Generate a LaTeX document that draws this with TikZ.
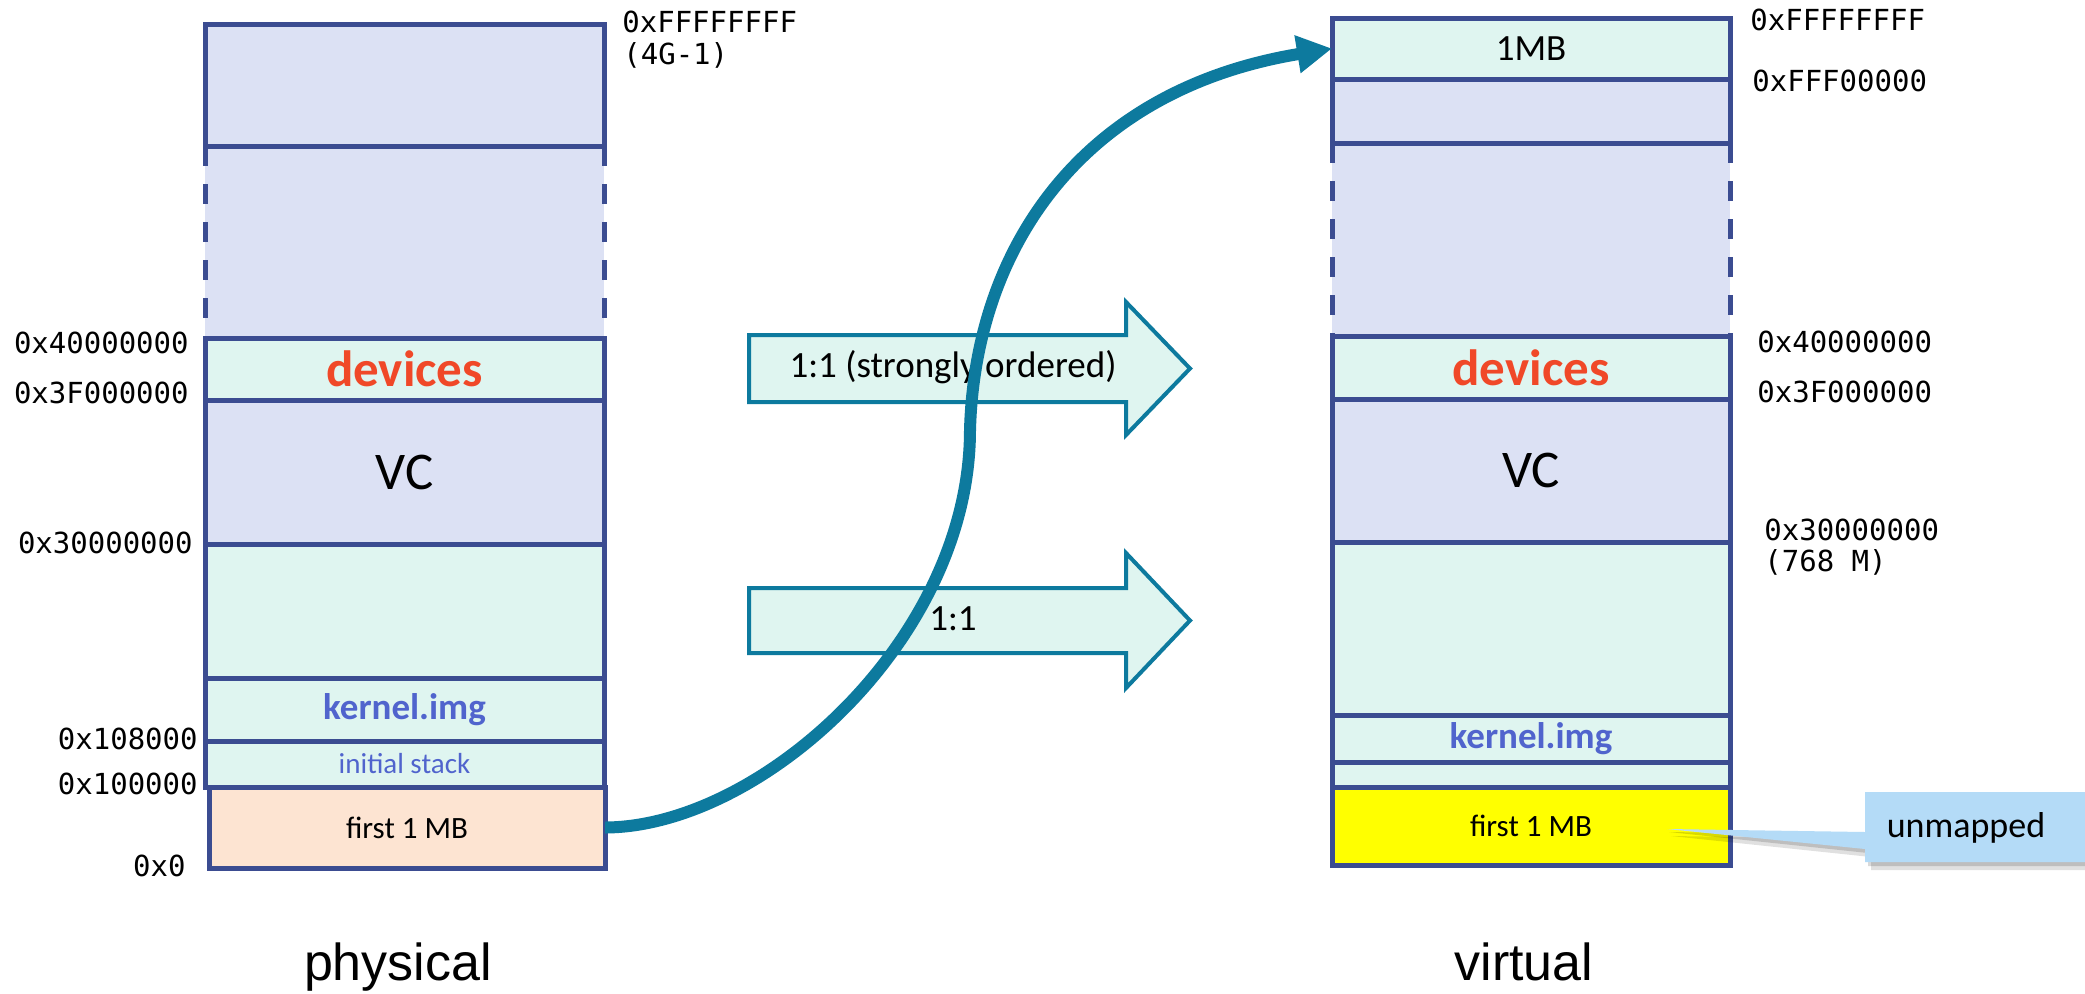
\documentclass[tikz,border=0pt]{standalone}
\usepackage{fontspec}
\setmainfont{Carlito}
\newfontfamily\calib{Carlito}
\newfontfamily\monof{DejaVu Sans Mono}
\newfontfamily\arialf{Liberation Sans}
\usetikzlibrary{arrows.meta}
\definecolor{navy}{RGB}{59,76,145}
\definecolor{lav}{RGB}{220,225,244}
\definecolor{mint}{RGB}{223,245,240}
\definecolor{peach}{RGB}{253,228,210}
\definecolor{yel}{RGB}{255,255,0}
\definecolor{tealc}{RGB}{13,122,158}
\definecolor{devred}{RGB}{240,72,40}
\definecolor{kblue}{RGB}{80,100,205}
\definecolor{callblue}{RGB}{180,219,247}
\tikzset{
  cell/.style={draw=navy, line width=2.5pt, minimum width=199.5pt, inner sep=0pt, outer sep=0pt, font=\calib},
  rcell/.style={cell, minimum width=199pt},
  dashfill/.style={fill=lav, draw=none, inner sep=0pt, outer sep=0pt},
  dashside/.style={draw=navy, line width=2.5pt, dash pattern=on 10pt off 9pt},
  addr/.style={font=\monof\fontsize{14.5}{16}\selectfont, inner sep=0pt},
  devtxt/.style={font=\calib\bfseries\fontsize{25.5}{28}\selectfont, text=devred},
  vctxt/.style={font=\calib\fontsize{26.5}{30}\selectfont},
  kerntxt/.style={font=\calib\bfseries\fontsize{18.5}{21}\selectfont, text=kblue},
  stacktxt/.style={font=\calib\fontsize{14.5}{17}\selectfont, text=kblue},
  mbtxt/.style={font=\calib\fontsize{15.5}{18}\selectfont},
  blockarrow/.style={draw=tealc, fill=mint, line width=2pt, line join=miter},
  arrtxt/.style={font=\calib\fontsize{18.5}{21}\selectfont, inner sep=0pt},
  title/.style={font=\arialf\fontsize{26}{30}\selectfont, inner sep=0pt, anchor=base},
}
\begin{document}
\begin{tikzpicture}[x=0.5pt, y=-0.5pt]
\useasboundingbox (0,0) rectangle (2085,993);
\fill[white] (0,0) rectangle (2085,993);

% ---------- physical column ----------
\node[dashfill, minimum width=199.5pt, minimum height=96pt] (pdash) at (404.5,242) {};
\draw[dashside] (pdash.north west) -- (pdash.south west);
\draw[dashside] (pdash.north east) -- (pdash.south east);
\node[cell, fill=lav, minimum height=61pt] (ptop) at (404.5,85) {};
\node[cell, fill=mint, minimum height=31pt] (pdev) at (404.5,369) {};
\node[devtxt] (pdevt) at (pdev.center) {devices};
\node[cell, fill=lav, minimum height=72pt, vctxt] (pvc) at (404.5,472) {VC};
\node[cell, fill=mint, minimum height=67pt] (pfree) at (404.5,611) {};
\node[cell, fill=mint, minimum height=31.5pt, kerntxt] (pkern) at (404.5,709.5) {kernel.img};
\node[cell, fill=mint, minimum height=23pt, stacktxt] (pstack) at (404.5,764) {initial stack};
\node[cell, fill=peach, minimum width=198pt, minimum height=40.5pt, mbtxt] (p1mb) at (407,827.5) {first 1 MB};

% physical labels
\node[addr, anchor=west] (plFF) at (622,22) {0xFFFFFFFF};
\node[addr, anchor=west] (pl4G) at (623,55) {(4G-1)};
\node[addr, anchor=east] (pl40) at (189,343) {0x40000000};
\node[addr, anchor=east] (pl3F) at (189,393) {0x3F000000};
\node[addr, anchor=east] (pl30) at (193,543) {0x30000000};
\node[addr, anchor=east] (pl108) at (198,739) {0x108000};
\node[addr, anchor=east] (pl100) at (198,784) {0x100000};
\node[addr, anchor=east] (pl0) at (186,866) {0x0};
\node[title] (phys) at (398,980) {physical};

% ---------- virtual column ----------
\node[dashfill, minimum width=199pt, minimum height=96.5pt] (vdash) at (1531,239.5) {};
\draw[dashside] (vdash.north west) -- (vdash.south west);
\draw[dashside] (vdash.north east) -- (vdash.south east);
\node[rcell, fill=mint, minimum height=30.5pt, font=\calib\fontsize{18.5}{21}\selectfont] (v1mb) at (1531,48.5) {1MB};
\node[rcell, fill=lav, minimum height=32pt] (vlav) at (1531,111) {};
\node[rcell, fill=mint, minimum height=31.5pt] (vdev) at (1531,367.5) {};
\node[devtxt] (vdevt) at (vdev.center) {devices};
\node[rcell, fill=lav, minimum height=71.5pt, vctxt] (vvc) at (1531,470.5) {VC};
\node[rcell, fill=mint, minimum height=86.5pt] (vfree) at (1531,628.5) {};
\node[rcell, fill=mint, minimum height=23.5pt, kerntxt] (vkern) at (1531,738.5) {kernel.img};
\node[rcell, fill=mint, minimum height=12.5pt] (vsmall) at (1531,774.5) {};
\node[rcell, fill=yel, minimum height=39pt, mbtxt] (vfirst) at (1531,826) {first 1 MB};

% virtual labels
\node[addr, anchor=west] (vlFF) at (1750,20) {0xFFFFFFFF};
\node[addr, anchor=west] (vlFFF) at (1752,81) {0xFFF00000};
\node[addr, anchor=west] (vl40) at (1757,342) {0x40000000};
\node[addr, anchor=west] (vl3F) at (1757,392) {0x3F000000};
\node[addr, anchor=west] (vl30) at (1764,530) {0x30000000};
\node[addr, anchor=west] (vl768) at (1764,562) {(768 M)};
\node[title] (virt) at (1524,980) {virtual};

% ---------- block arrows ----------
\draw[blockarrow] (749,335) -- (1126,335) -- (1126,302) -- (1190,368.5) -- (1126,435) -- (1126,402) -- (749,402) -- cycle;
\node[arrtxt] (a1) at (953,367) {1:1 (strongly ordered)};
\draw[blockarrow] (749,588) -- (1126,588) -- (1126,553) -- (1190,620.5) -- (1126,688) -- (1126,653) -- (749,653) -- cycle;
\node[arrtxt] (a2) at (953,619) {1:1};

% ---------- curved arrow ----------
\draw[tealc, line width=6pt, -{Triangle[length=17.5pt,width=18pt]}]
  (p1mb.east) .. controls (760,827) and (970,640) .. (970,430)
  .. controls (975,250) and (1080,90) .. (v1mb.west);

% ---------- callout ----------
\fill[black, opacity=0.12] (1871,799) -- (2092,799) -- (2092,870) -- (1871,870) -- (1871,857) -- (1671,836) -- (1871,839) -- cycle;
\fill[black, opacity=0.15] (1868,795) -- (2090,795) -- (2090,866) -- (1868,866) -- (1868,853) -- (1669,832) -- (1868,835) -- cycle;
\fill[callblue] (1865,792) -- (2090,792) -- (2090,862) -- (1865,862) -- (1865,849) -- (1667,829) -- (1865,832) -- cycle;
\node[font=\calib\fontsize{18}{21}\selectfont, inner sep=0pt] (unm) at (1966,828) {unmapped};
\end{tikzpicture}
\end{document}
